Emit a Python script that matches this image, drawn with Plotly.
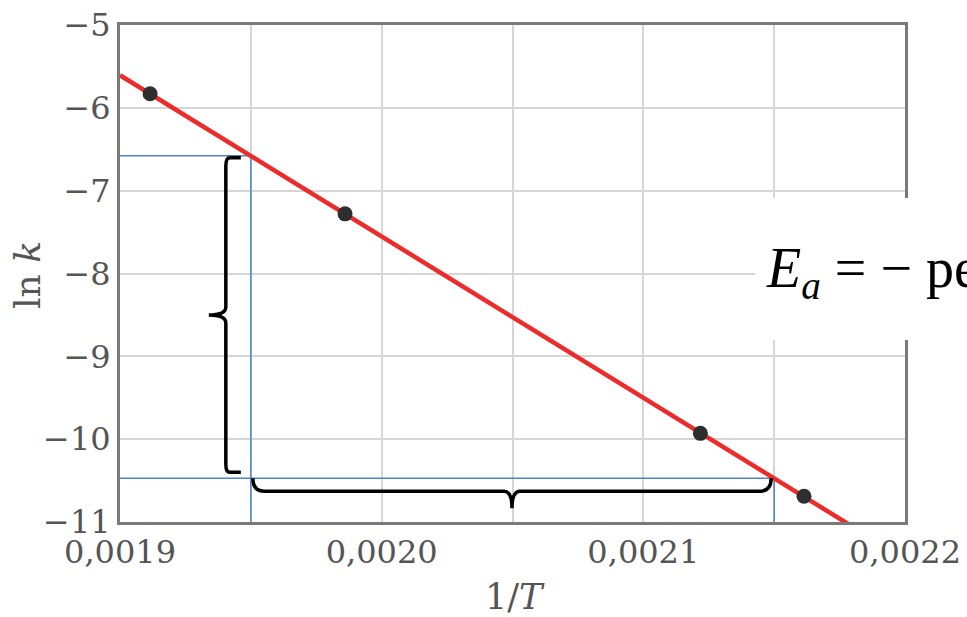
import numpy as np
import plotly.graph_objects as go

# ---- data ----
inv_T = [0.0019115, 0.001986, 0.0021218, 0.0021614]
ln_k = [-5.83, -7.28, -9.93, -10.69]
guide_x = [0.00195, 0.00215]          # points read on the fitted line
x_ticks = [0.0019, 0.0020, 0.0021, 0.0022]
x_tick_labels = ["0,0019", "0,0020", "0,0021", "0,0022"]
y_ticks = [-11, -10, -9, -8, -7, -6, -5]

W, H = 967, 617
ML, MT = 120, 25
MR = W - 905
MB = H - 522
X0, X1 = 0.0019, 0.0022
Y0, Y1 = -11, -5
pw = W - ML - MR
ph = H - MT - MB
dxp = (X1 - X0) / pw     # data units per pixel
dyp = (Y1 - Y0) / ph

slope, intercept = np.polyfit(inv_T, ln_k, 1)
fit_x = np.array([X0, X1])
fit_y = slope * fit_x + intercept
gy = [slope * gx + intercept for gx in guide_x]

SERIF = "DejaVu Serif"
BLUE = "#4a87c2"
fig = go.Figure()

# blue guide lines
for gx, yy in zip(guide_x, gy):
    fig.add_trace(go.Scatter(x=[X0, gx, gx], y=[yy, yy, Y0], mode="lines",
                             line=dict(color=BLUE, width=1.5), hoverinfo="skip",
                             showlegend=False))

# fitted line
fig.add_trace(go.Scatter(x=fit_x, y=fit_y, mode="lines",
                         line=dict(color="#ee2b2b", width=4.5), showlegend=False))
# data points
fig.add_trace(go.Scatter(x=inv_T, y=ln_k, mode="markers",
                         marker=dict(color="#2e2e2e", size=15), showlegend=False))


def fmt(x, y):
    return f"{x:.9f},{y:.6f}"


# vertical brace (tip to the left)
ya, yb = gy[0], gy[1]
xb = guide_x[0] - 25 * dxp
xe = guide_x[0] - 10 * dxp
xt = guide_x[0] - 42 * dxp
ytop = ya - 2 * dyp
ybot = yb + 6 * dyp
ymid = (ytop + ybot) / 2
r = 8
vpath = (f"M {fmt(xe, ytop)} L {fmt(xb + 4*dxp, ytop)} Q {fmt(xb, ytop)} {fmt(xb, ytop - r*dyp)} "
         f"L {fmt(xb, ymid + r*dyp)} Q {fmt(xb, ymid)} {fmt(xt, ymid)} "
         f"Q {fmt(xb, ymid)} {fmt(xb, ymid - r*dyp)} "
         f"L {fmt(xb, ybot + r*dyp)} Q {fmt(xb, ybot)} {fmt(xb + 4*dxp, ybot)} L {fmt(xe, ybot)}")
fig.add_shape(type="path", path=vpath, xref="x", yref="y",
              line=dict(color="black", width=3.5), layer="above")

# horizontal brace (tip downward)
hl = guide_x[0] + 2 * dxp
hr = guide_x[1] - 3 * dxp
hy_end = yb
hy = yb - 13 * dyp
hy_tip = yb - 30 * dyp
hmid = (hl + hr) / 2
hpath = (f"M {fmt(hl, hy_end)} Q {fmt(hl, hy)} {fmt(hl + 12*dxp, hy)} "
         f"L {fmt(hmid - r*dxp, hy)} Q {fmt(hmid, hy)} {fmt(hmid, hy_tip)} "
         f"Q {fmt(hmid, hy)} {fmt(hmid + r*dxp, hy)} "
         f"L {fmt(hr - 12*dxp, hy)} Q {fmt(hr, hy)} {fmt(hr, hy_end)}")
fig.add_shape(type="path", path=hpath, xref="x", yref="y",
              line=dict(color="black", width=3.5), layer="above")


def px(xp):  # window pixel -> paper
    return (xp - ML) / pw


def py(yp):
    return (H - MB - yp) / ph


# white overlay box with formula
fig.add_shape(type="rect", xref="paper", yref="paper",
              x0=px(755), x1=px(W + 20), y0=py(340), y1=py(198),
              fillcolor="white", line=dict(width=0), layer="above")
fig.add_annotation(xref="paper", yref="paper", x=px(764), y=py(272),
                   xanchor="left", yanchor="middle", showarrow=False,
                   text="<i>E</i><sub><i>a</i></sub> = − pe",
                   font=dict(family="Liberation Serif", size=56, color="black"))

# axis titles
fig.add_annotation(xref="paper", yref="paper", x=px(515), y=py(597),
                   xanchor="center", yanchor="middle", showarrow=False,
                   text="1/<i>T</i>", font=dict(family=SERIF, size=35, color="#555"))
fig.add_annotation(xref="paper", yref="paper", x=px(27), y=py(275),
                   xanchor="center", yanchor="middle", showarrow=False, textangle=-90,
                   text="ln <i>k</i>", font=dict(family=SERIF, size=36, color="#555"))

GRID = "#d6d6d6"
fig.update_layout(
    width=W, height=H,
    margin=dict(l=ML, r=MR, t=MT, b=MB, autoexpand=False),
    paper_bgcolor="white", plot_bgcolor="white",
    separators=",.",
    font=dict(family=SERIF, size=32, color="#555"),
    xaxis=dict(range=[X0, X1], tickvals=x_ticks, ticktext=x_tick_labels,
               showgrid=True, gridcolor=GRID, gridwidth=1.5,
               minor=dict(dtick=0.00005, tick0=X0, showgrid=True, gridcolor=GRID, gridwidth=1.5),
               showline=True, linecolor="#7a7a7a", linewidth=3, mirror=True,
               ticks="", ticklen=0, zeroline=False, tickfont=dict(size=32),
               ticklabeloverflow="allow", automargin=False),
    yaxis=dict(range=[Y0, Y1], tickvals=y_ticks,
               showgrid=True, gridcolor=GRID, gridwidth=1.5,
               showline=True, linecolor="#7a7a7a", linewidth=3, mirror=True,
               ticks="", ticklen=0, zeroline=False, tickfont=dict(size=32),
               ticklabeloverflow="allow", automargin=False),
)

fig.write_html(
    "out.html",
    config={"displayModeBar": False},
    post_script="document.body.style.margin='0';document.body.style.overflow='hidden';"
                "document.documentElement.style.overflow='hidden';",
)
